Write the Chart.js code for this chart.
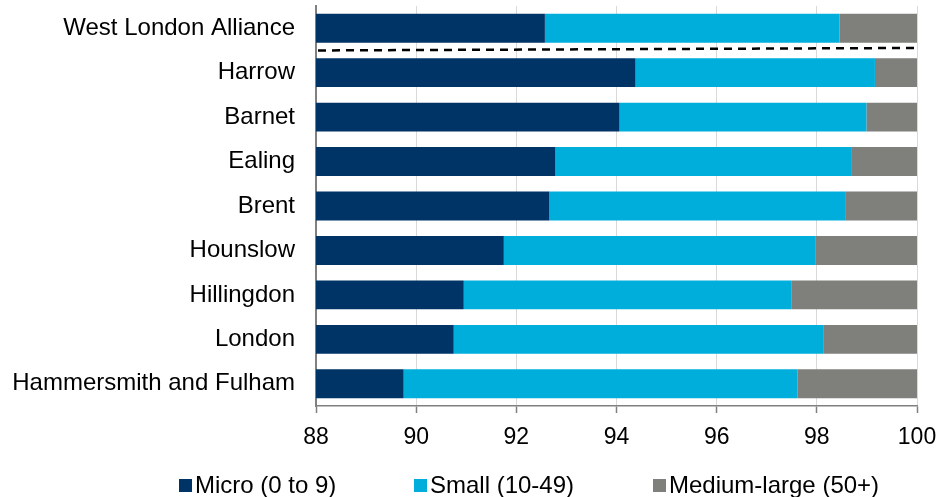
<!DOCTYPE html>
<html>
<head>
<meta charset="utf-8">
<script src="https://cdn.jsdelivr.net/npm/chart.js@4.4.1/dist/chart.umd.min.js"></script>
<style>
  html, body { margin: 0; padding: 0; background: #ffffff; }
  #wrap { width: 944px; height: 497px; position: relative; }
</style>
</head>
<body>
<div id="wrap"><canvas id="c" width="944" height="497"></canvas></div>
<script>
// ---- data ----
const categories = ["West London Alliance", "Harrow", "Barnet", "Ealing", "Brent", "Hounslow", "Hillingdon", "London", "Hammersmith and Fulham"];
const seriesNames = ["Micro (0 to 9)", "Small (10-49)", "Medium-large (50+)"];
const micro = [92.57, 94.38, 94.06, 92.78, 92.66, 91.75, 90.95, 90.75, 89.75];
const small = [5.88, 4.78, 4.93, 5.92, 5.92, 6.23, 6.55, 7.39, 7.86];
const mediumLarge = [1.55, 0.84, 1.01, 1.30, 1.42, 2.02, 2.50, 1.86, 2.39];
const xMin = 88, xMax = 100, xStep = 2;

const colors = ["#003366", "#00AEDC", "#7F7F7B"];
const FONT = "'Liberation Sans', Arial, Helvetica, sans-serif";

// dashed separator between first and second category
const separatorPlugin = {
  id: 'separator',
  afterDatasetsDraw(chart) {
    const y = chart.scales.y, x = chart.scales.x;
    const mid = (y.getPixelForValue(0) + y.getPixelForValue(1)) / 2;
    const ctx = chart.ctx;
    ctx.save();
    ctx.strokeStyle = '#000000';
    ctx.lineWidth = 2.5;
    ctx.setLineDash([8, 6]);
    ctx.beginPath();
    ctx.moveTo(x.left + 2, mid);
    ctx.lineTo(x.right, mid - 2.5);
    ctx.stroke();
    ctx.restore();
  }
};

// custom legend (tight box/text spacing like the reference)
const legendPlugin = {
  id: 'customLegend',
  afterDraw(chart) {
    const ctx = chart.ctx;
    const starts = [179, 414, 653];
    ctx.save();
    ctx.font = "24px " + FONT;
    ctx.textBaseline = 'alphabetic';
    ctx.textAlign = 'left';
    chart.data.datasets.forEach((ds, i) => {
      const sx = starts[i];
      ctx.fillStyle = ds.backgroundColor;
      ctx.fillRect(sx, 479, 13, 13);
      ctx.fillStyle = '#000000';
      ctx.fillText(ds.label, sx + 16, 492.5);
    });
    ctx.restore();
  }
};

const seriesValues = [micro, small, mediumLarge];

new Chart(document.getElementById('c'), {
  type: 'bar',
  data: {
    labels: categories,
    datasets: seriesNames.map((name, i) => ({
      label: name,
      data: seriesValues[i],
      backgroundColor: colors[i],
      borderWidth: 0,
      categoryPercentage: 1.0,
      barPercentage: 0.65
    }))
  },
  options: {
    indexAxis: 'y',
    responsive: false,
    animation: false,
    devicePixelRatio: 1,
    layout: { padding: { top: 6, right: 27, left: 0, bottom: 0 } },
    plugins: {
      legend: { display: false },
      tooltip: { enabled: false },
      title: { display: false }
    },
    scales: {
      x: {
        stacked: true,
        min: xMin,
        max: xMax,
        ticks: {
          stepSize: xStep,
          color: '#000000',
          font: { family: FONT, size: 23 },
          padding: 11,
          maxRotation: 0
        },
        grid: {
          color: '#D9D9D9',
          lineWidth: 1,
          drawTicks: true,
          tickLength: 7,
          tickColor: '#808080',
          tickWidth: 1.5
        },
        border: { display: true, color: '#808080', width: 1.5 },
        afterFit(scale) {
          scale.height = 91;
          scale.paddingLeft = 0;
          scale.paddingRight = 0;
        }
      },
      y: {
        stacked: true,
        ticks: {
          color: '#000000',
          font: { family: FONT, size: 24 },
          padding: 21,
          autoSkip: false
        },
        grid: { display: false, drawTicks: false },
        border: { display: true, color: '#808080', width: 2 },
        afterFit(scale) {
          scale.width = 316;
          scale.paddingTop = 0;
          scale.paddingBottom = 0;
        }
      }
    }
  },
  plugins: [separatorPlugin, legendPlugin]
});
</script>
</body>
</html>
